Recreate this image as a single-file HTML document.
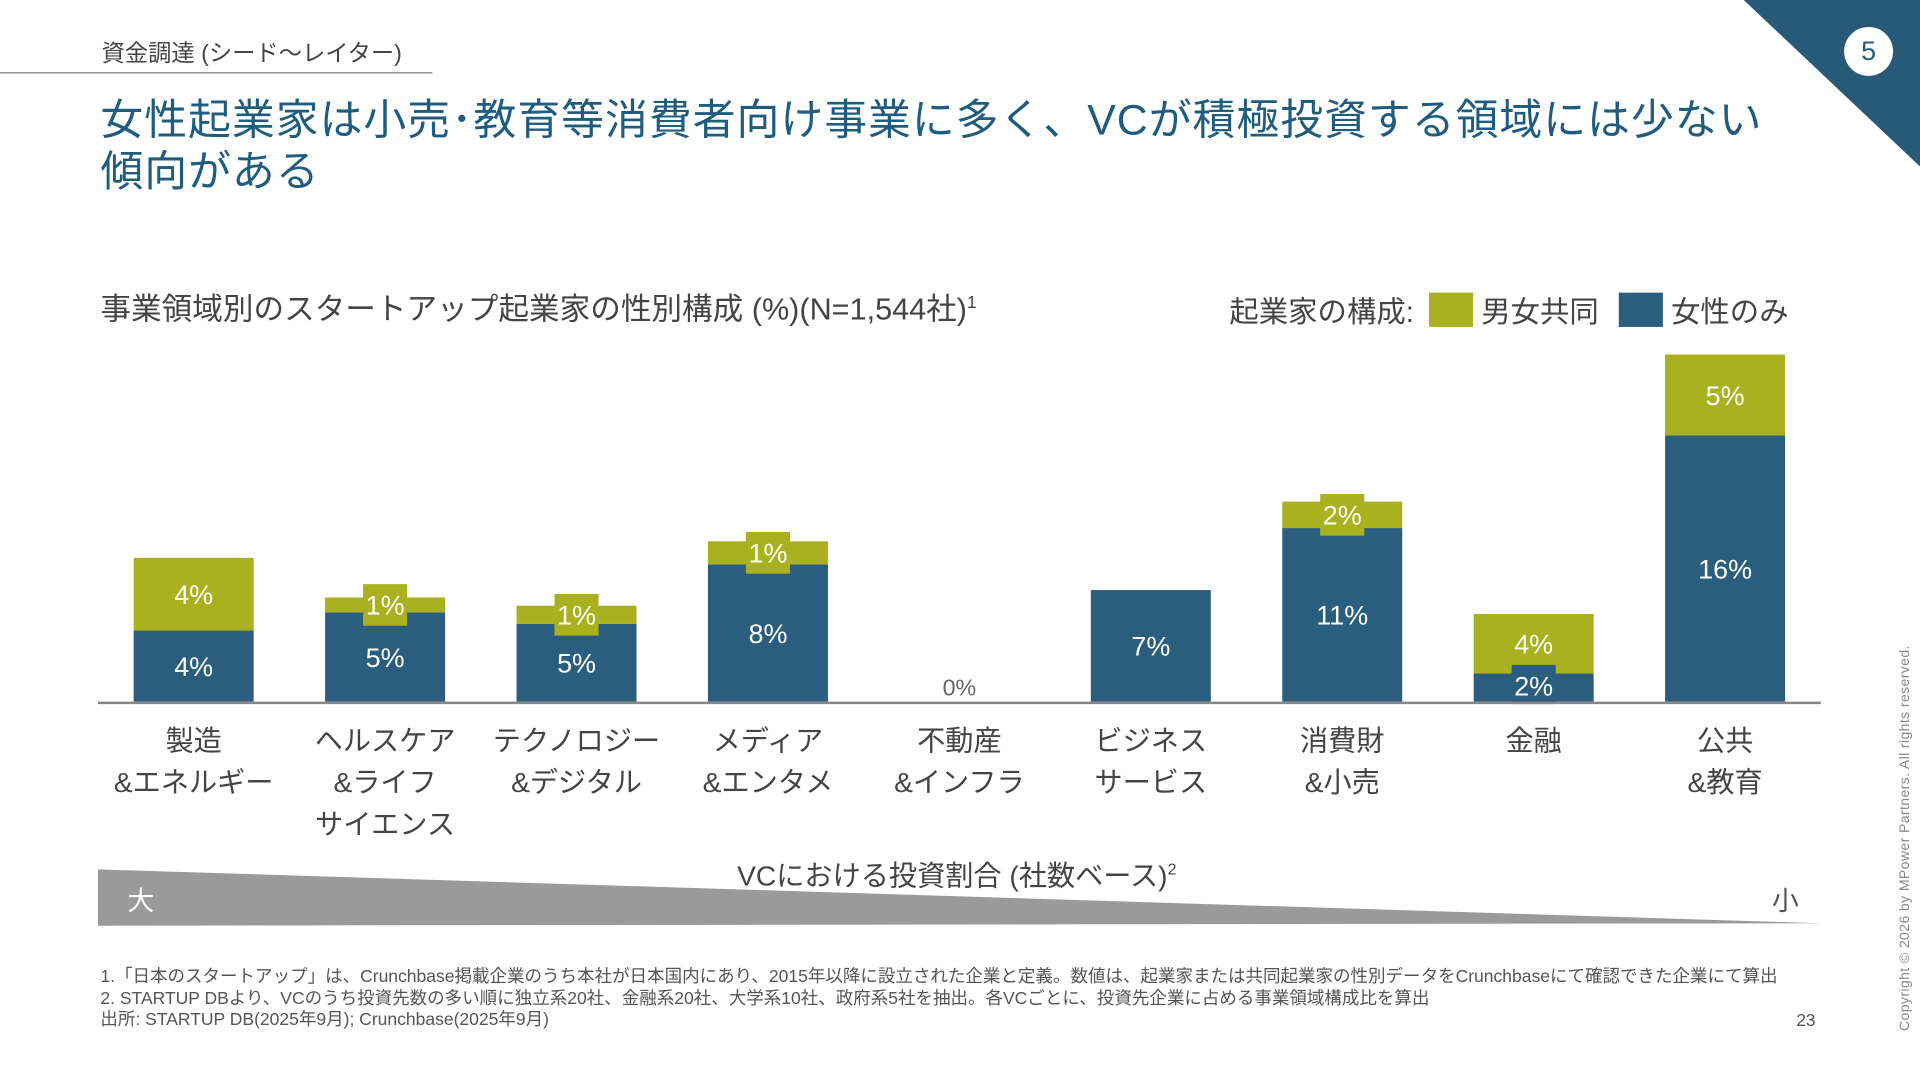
<!DOCTYPE html>
<html><head><meta charset="utf-8">
<style>
html,body{margin:0;padding:0;background:#fff;}
body{width:1920px;height:1080px;overflow:hidden;position:relative;}
#stage{position:absolute;left:0;top:0;width:1568px;height:882px;transform:scale(1.22449);transform-origin:0 0;font-family:"Liberation Sans","Noto Sans CJK JP",sans-serif;color:#444;}
.abs{position:absolute;white-space:nowrap;}
</style></head>
<body>
<div id="stage">
  <div class="abs" style="left:83px;top:29px;font-size:19px;color:#444;">資金調達 (シード〜レイター)</div>
  <div class="abs" style="left:0;top:59px;width:353px;height:1px;background:#777;"></div>
  <svg class="abs" style="left:1424px;top:0;" width="144" height="136"><polygon points="0,0 144,0 144,136" fill="#285a78"/></svg>
  <div class="abs" style="left:1506px;top:22px;width:40px;height:40px;border-radius:50%;background:#fff;color:#285a78;font-size:22px;text-align:center;line-height:40px;">5</div>
  <div class="abs" style="left:82px;top:78px;font-size:35px;line-height:42px;color:#1f5d80;letter-spacing:0.8px;">女性起業家は小売･教育等消費者向け事業に多く、VCが積極投資する領域には少ない<br>傾向がある</div>
  <div class="abs" style="left:82px;top:233px;font-size:25px;color:#444;">事業領域別のスタートアップ起業家の性別構成 (%)(N=1,544社)<sup style="font-size:14px;">1</sup></div>
  <div class="abs" style="left:1004px;top:235px;font-size:24px;color:#444;display:flex;align-items:center;">
    <span>起業家の構成:</span>
    <span style="display:inline-block;width:36px;height:28px;background:#a9b11f;margin:0 7px 0 12px;"></span>
    <span>男女共同</span>
    <span style="display:inline-block;width:36px;height:28px;background:#2b5e7e;margin:0 7px 0 16px;"></span>
    <span>女性のみ</span>
  </div>
  <svg class="abs" id="chart" style="left:0;top:0;" width="1568" height="700"></svg>
  <svg class="abs" style="left:0;top:0;" width="1568" height="882">
    <polygon points="80,710 1487,754 80,756" fill="#9a9a9a"/>
    <text x="115" y="743" font-size="22" fill="#fff" text-anchor="middle" font-family="Liberation Sans, Noto Sans CJK JP, sans-serif">大</text>
    <text x="1458" y="743" font-size="22" fill="#555" text-anchor="middle" font-family="Liberation Sans, Noto Sans CJK JP, sans-serif">小</text>
  </svg>
  <div class="abs" style="left:602px;top:696px;font-size:23px;color:#444;">VCにおける投資割合 (社数ベース)<sup style="font-size:13px;">2</sup></div>
  <div class="abs" style="left:82px;top:790px;font-size:14.3px;line-height:17.5px;color:#555;">
    <div>1.「日本のスタートアップ」は、Crunchbase掲載企業のうち本社が日本国内にあり、2015年以降に設立された企業と定義。数値は、起業家または共同起業家の性別データをCrunchbaseにて確認できた企業にて算出</div>
    <div>2. STARTUP DBより、VCのうち投資先数の多い順に独立系20社、金融系20社、大学系10社、政府系5社を抽出。各VCごとに、投資先企業に占める事業領域構成比を算出</div>
    <div>出所: STARTUP DB(2025年9月); Crunchbase(2025年9月)</div>
  </div>
  <div class="abs" style="left:1467px;top:825px;font-size:14px;color:#555;">23</div>
  <div class="abs" style="left:1550px;top:842px;font-size:11.5px;color:#888;transform:rotate(-90deg);transform-origin:0 0;letter-spacing:0.3px;">Copyright © 2026 by MPower Partners. All rights reserved.</div>
</div>
<script>
const categories = ["製造\n&エネルギー","ヘルスケア\n&ライフ\nサイエンス","テクノロジー\n&デジタル","メディア\n&エンタメ","不動産\n&インフラ","ビジネス\nサービス","消費財\n&小売","金融","公共\n&教育"];
const femaleOnly = [4.3, 5.4, 4.7, 8.3, 0, 6.75, 10.5, 1.7, 16.1];
const jointMixed = [4.4, 0.9, 1.1, 1.4, 0, 0, 1.6, 3.6, 4.9];
const femaleLabels = ["4%","5%","5%","8%","0%","7%","11%","2%","16%"];
const jointLabels = ["4%","1%","1%","1%","","","2%","4%","5%"];

const svg = document.getElementById('chart');
const NS = 'http://www.w3.org/2000/svg';
const baseY = 573, pxPerPct = 13.5, x0 = 80, x1 = 1487, barW = 98;
const step = (x1 - x0) / categories.length;
function xCenter(i){ return x0 + step * (i + 0.5); }
function yScale(v){ return baseY - v * pxPerPct; }
const BLUE = '#2b5e7e', GREEN = '#a9b11f';
function mk(tag, attrs){ const e = document.createElementNS(NS, tag); for (const k in attrs) e.setAttribute(k, attrs[k]); svg.appendChild(e); return e; }
function txt(x, y, s, fill, size){ const t = mk('text', {x:x, y:y, fill:fill, 'font-size':size, 'text-anchor':'middle', 'font-family':'Liberation Sans, Noto Sans CJK JP, sans-serif'}); t.textContent = s; return t; }

categories.forEach((c, i) => {
  const cx = xCenter(i);
  const fTop = yScale(femaleOnly[i]);
  const jTop = yScale(femaleOnly[i] + jointMixed[i]);
  if (femaleOnly[i] > 0) {
    const r = mk('rect', {x: cx - barW/2, y: fTop, width: barW, height: baseY - fTop, fill: BLUE});
    
    
  }
  if (jointMixed[i] > 0) {
    const r = mk('rect', {x: cx - barW/2, y: jTop, width: barW, height: fTop - jTop, fill: GREEN});
    
    
  }
  const fH = baseY - fTop, jH = fTop - jTop;
  if (femaleOnly[i] > 0) {
    if (fH < 34) {
      const b = mk('rect', {x: cx - 18, y: baseY - 30, width: 36, height: 32, fill: BLUE});
      
      
      const t = txt(cx, baseY - 5, femaleLabels[i], '#fff', 22);
      
      
    } else {
      const t = txt(cx, (fTop + baseY)/2 + 8, femaleLabels[i], '#fff', 22);
      
      
    }
  } else if (jointMixed[i] === 0) {
    const t = txt(cx, baseY - 5, femaleLabels[i], '#666', 19);
    
    
  }
  if (jointMixed[i] > 0) {
    if (jH < 34) {
      const mid = (jTop + fTop) / 2;
      const b = mk('rect', {x: cx - 18, y: mid - 17, width: 36, height: 34, fill: GREEN});
      
      
      const t = txt(cx, mid + 8, jointLabels[i], '#fff', 22);
      
      
    } else {
      const t = txt(cx, (jTop + fTop)/2 + 8, jointLabels[i], '#fff', 22);
      
      
    }
  }
  c.split('\n').forEach((line, k) => {
    const t = txt(cx, 613 + k * 34, line, '#444', 23);
    
    
  });
});
const ax = mk('line', {x1: x0, y1: baseY + 1, x2: x1, y2: baseY + 1, stroke: '#888', 'stroke-width': 2});


</script>
</body></html>
